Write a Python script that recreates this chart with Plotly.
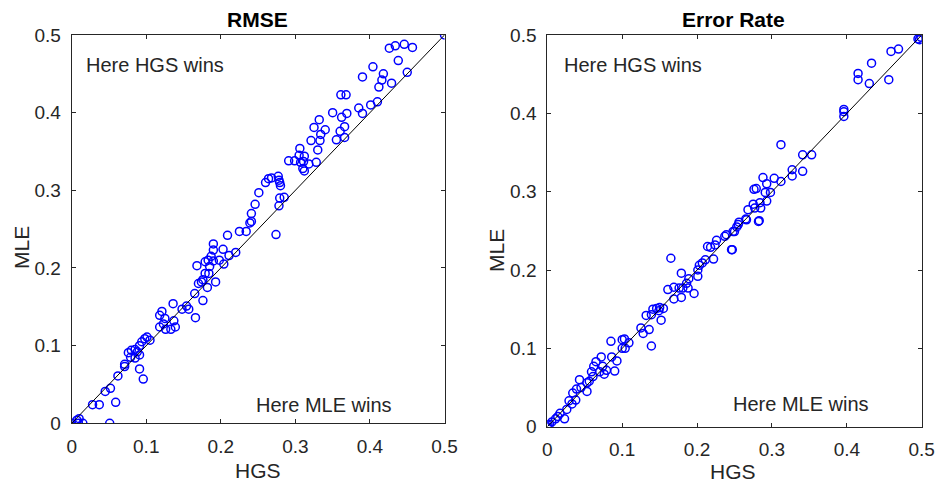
import plotly.graph_objects as go

# RMSE panel data (HGS, MLE)
rmse_hgs = [0.5, 0.426, 0.434, 0.446, 0.457, 0.438, 0.450, 0.404, 0.390, 0.418, 0.416, 0.412, 0.429,
            0.410, 0.401, 0.390, 0.385, 0.361, 0.368, 0.350, 0.362, 0.369, 0.332, 0.325, 0.340, 0.334,
            0.360, 0.366, 0.321, 0.333, 0.355, 0.366, 0.306, 0.330, 0.305, 0.312, 0.291, 0.299, 0.307,
            0.311, 0.318, 0.328, 0.310, 0.312, 0.279, 0.285, 0.278, 0.260, 0.264, 0.268, 0.277, 0.278,
            0.279, 0.280, 0.251, 0.246, 0.241, 0.241, 0.274,
            0.239, 0.234, 0.225, 0.209, 0.220, 0.211, 0.203, 0.204, 0.190, 0.190, 0.187, 0.183, 0.179,
            0.168, 0.190, 0.185, 0.198, 0.179, 0.184, 0.176, 0.174, 0.170, 0.193, 0.182, 0.165, 0.176,
            0.166, 0.157, 0.154, 0.148, 0.136, 0.137, 0.139, 0.133, 0.126, 0.118, 0.118, 0.121, 0.125,
            0.123, 0.105, 0.101, 0.098, 0.094, 0.091, 0.088, 0.091, 0.085, 0.080, 0.076, 0.079, 0.085,
            0.091, 0.096, 0.071, 0.071, 0.062, 0.052, 0.045, 0.037, 0.028, 0.059, 0.051, 0.010, 0.0,
            0.009, 0.015, 0.007]
rmse_mle = [0.5, 0.483, 0.486, 0.488, 0.484, 0.467, 0.452, 0.459, 0.446, 0.450, 0.442, 0.433, 0.438,
            0.414, 0.410, 0.399, 0.406, 0.423, 0.423, 0.400, 0.394, 0.399, 0.391, 0.381, 0.378, 0.372,
            0.376, 0.382, 0.364, 0.364, 0.365, 0.368, 0.354, 0.352, 0.345, 0.344, 0.338, 0.338, 0.336,
            0.337, 0.334, 0.336, 0.328, 0.325, 0.290, 0.291, 0.280, 0.310, 0.315, 0.316, 0.318, 0.313,
            0.310, 0.306, 0.297, 0.282, 0.270, 0.260, 0.243,
            0.258, 0.247, 0.247, 0.242, 0.220, 0.216, 0.224, 0.205, 0.231, 0.223, 0.215, 0.210, 0.208,
            0.203, 0.209, 0.202, 0.210, 0.193, 0.193, 0.185, 0.182, 0.180, 0.182, 0.175, 0.167, 0.158,
            0.136, 0.147, 0.151, 0.147, 0.154, 0.132, 0.124, 0.121, 0.121, 0.124, 0.139, 0.144, 0.135,
            0.128, 0.107, 0.111, 0.109, 0.105, 0.100, 0.092, 0.088, 0.095, 0.094, 0.091, 0.085, 0.084,
            0.070, 0.057, 0.073, 0.076, 0.061, 0.045, 0.041, 0.024, 0.024, 0.027, 0.0, 0.006, 0.0,
            0.0, 0.0, 0.004]

# Error Rate panel data (HGS, MLE)
err_hgs = [0.495, 0.497, 0.499, 0.459, 0.469, 0.433, 0.415, 0.415, 0.430, 0.456, 0.396, 0.396, 0.396,
           0.312, 0.341, 0.353, 0.327, 0.327, 0.341, 0.312, 0.303, 0.288, 0.293, 0.279, 0.276, 0.298,
           0.291, 0.293, 0.284, 0.275, 0.285, 0.268, 0.277, 0.265, 0.283, 0.256, 0.253,
           0.247, 0.250, 0.255, 0.266, 0.282, 0.239,
           0.248, 0.237, 0.246, 0.226, 0.224, 0.218, 0.214, 0.222, 0.211, 0.207, 0.203, 0.201, 0.201,
           0.165, 0.179, 0.189, 0.186, 0.188, 0.181, 0.176, 0.169, 0.161, 0.179, 0.196, 0.169, 0.155,
           0.150, 0.146, 0.141, 0.149, 0.139, 0.152, 0.132, 0.136, 0.125, 0.128, 0.139, 0.103, 0.100,
           0.100, 0.104, 0.109, 0.085, 0.093, 0.090, 0.086, 0.079, 0.074, 0.076, 0.070, 0.072, 0.065,
           0.062, 0.059, 0.061, 0.056, 0.053, 0.043, 0.053, 0.045, 0.039, 0.034, 0.038, 0.029, 0.033,
           0.026, 0.023, 0.017, 0.014, 0.011, 0.006, 0.003, 0.0, 0.001]
err_mle = [0.495, 0.494, 0.497, 0.479, 0.482, 0.464, 0.451, 0.443, 0.438, 0.443, 0.405, 0.402, 0.396,
           0.360, 0.347, 0.347, 0.328, 0.320, 0.326, 0.313, 0.317, 0.318, 0.310, 0.304, 0.303, 0.299,
           0.299, 0.288, 0.286, 0.284, 0.279, 0.277, 0.279, 0.265, 0.263, 0.261, 0.255,
           0.226, 0.249, 0.258, 0.264, 0.262, 0.245,
           0.249, 0.243, 0.226, 0.238, 0.232, 0.229, 0.230, 0.214, 0.213, 0.209, 0.206, 0.200, 0.192,
           0.215, 0.196, 0.189, 0.183, 0.177, 0.177, 0.177, 0.178, 0.175, 0.165, 0.170, 0.163, 0.151,
           0.152, 0.151, 0.150, 0.148, 0.143, 0.136, 0.142, 0.124, 0.126, 0.119, 0.103, 0.112, 0.111,
           0.100, 0.100, 0.107, 0.109, 0.084, 0.071, 0.089, 0.072, 0.077, 0.067, 0.070, 0.089, 0.083,
           0.077, 0.070, 0.064, 0.058, 0.056, 0.060, 0.045, 0.050, 0.048, 0.043, 0.034, 0.033, 0.029,
           0.022, 0.010, 0.017, 0.013, 0.010, 0.006, 0.003, 0.0, 0.002]

diag = [0, 0.5]
ticks = [0, 0.1, 0.2, 0.3, 0.4, 0.5]
tick_text = ["0", "0.1", "0.2", "0.3", "0.4", "0.5"]

FONT = "Liberation Sans, Arial, Helvetica, sans-serif"
AX = "#262626"

fig = go.Figure()
marker = dict(symbol="circle-open", size=8, color="#0000ff", line=dict(width=1.5, color="#0000ff"))

fig.add_trace(go.Scatter(x=rmse_hgs, y=rmse_mle, mode="markers", marker=marker, xaxis="x", yaxis="y"))
fig.add_trace(go.Scatter(x=diag, y=diag, mode="lines", line=dict(color="black", width=1), xaxis="x", yaxis="y"))
fig.add_trace(go.Scatter(x=err_hgs, y=err_mle, mode="markers", marker=marker, xaxis="x2", yaxis="y2"))
fig.add_trace(go.Scatter(x=diag, y=diag, mode="lines", line=dict(color="black", width=1), xaxis="x2", yaxis="y2"))

def axis(domain, anchor, standoff):
    return dict(domain=domain, anchor=anchor, range=[0, 0.5], tickvals=ticks, ticktext=tick_text,
                ticks="inside", ticklen=4, tickcolor=AX, tickwidth=1, mirror="ticks",
                showline=True, linecolor=AX, linewidth=1, showgrid=False, zeroline=False,
                automargin=False, ticklabelstandoff=standoff,
                tickfont=dict(size=19, color=AX, family=FONT))

fig.update_layout(
    template="none",
    width=937, height=484, margin=dict(l=0, r=0, t=0, b=0, pad=0),
    paper_bgcolor="white", plot_bgcolor="white", showlegend=False,
    xaxis=axis([0.0765, 0.4744], "y", 6),
    yaxis=axis([0.1254, 0.9277], "x", 6),
    xaxis2=axis([0.5841, 0.9837], "y2", 6),
    yaxis2=axis([0.1184, 0.9277], "x2", 6),
)

ann = []
def add_text(xp, yp, txt, size=20, bold=False, anchor="center", angle=0):
    ann.append(dict(x=xp / 937, y=1 - yp / 484, xref="paper", yref="paper",
                    text=("<b>%s</b>" % txt) if bold else txt, textangle=angle,
                    showarrow=False, xanchor=anchor, yanchor="middle",
                    font=dict(size=size, color="black" if bold else AX, family=FONT)))

add_text(257, 19, "RMSE", 21, True)
add_text(733.5, 19, "Error Rate", 21, True)
add_text(257.5, 470.5, "HGS", 21)
add_text(733, 471, "HGS", 21)
add_text(22, 248, "MLE", 21, angle=-90)
add_text(497, 250, "MLE", 21, angle=-90)
add_text(84, 65, "Here HGS wins", 20, anchor="left")
add_text(562, 65, "Here HGS wins", 20, anchor="left")
add_text(254, 405, "Here MLE wins", 20, anchor="left")
add_text(731, 404, "Here MLE wins", 20, anchor="left")
fig.update_layout(annotations=ann)

fig.write_html("out.html")
